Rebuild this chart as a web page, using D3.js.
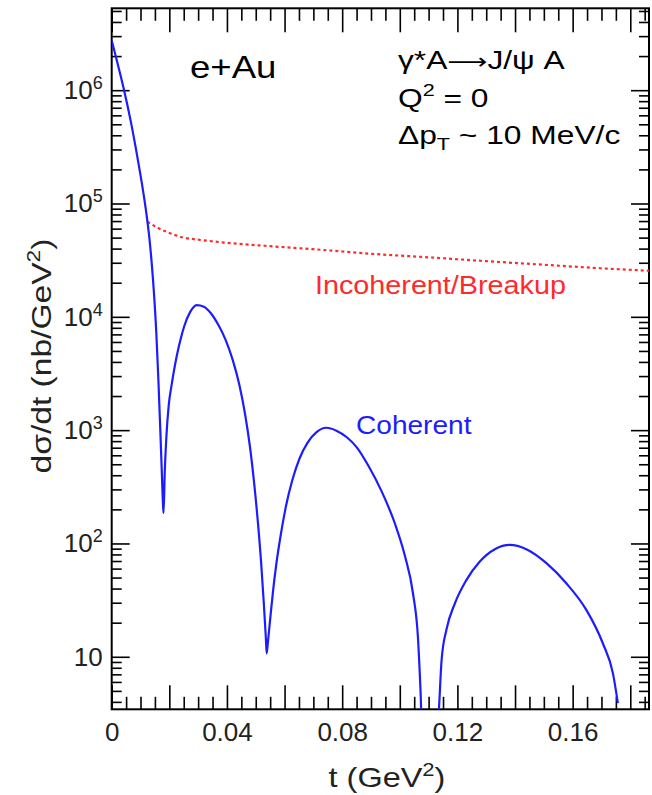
<!DOCTYPE html>
<html><head><meta charset="utf-8">
<script src="https://cdn.jsdelivr.net/npm/d3@7"></script>
<style>
body{margin:0;background:#fff}
text{font-family:"Liberation Sans",Arial,Helvetica,sans-serif}
</style>
</head><body>
<svg id="chart" width="652" height="795"></svg>
<script>
// ---- data (t in GeV^2, dσ/dt in nb/GeV^2) ----
const coherentT = [0, 0.0020, 0.0043, 0.0065, 0.0085, 0.0100, 0.0112, 0.0122, 0.0131, 0.0139, 0.0147, 0.0155, 0.0162, 0.0168, 0.0173, 0.0178, 0.0180,
  0.0184, 0.0190, 0.0198, 0.0208, 0.0220, 0.0235, 0.0252, 0.0272, 0.0295, 0.0320, 0.0345, 0.0370, 0.0395, 0.0420, 0.0443, 0.0463, 0.0480, 0.0495, 0.0508, 0.0519, 0.0528, 0.0535, 0.0538,
  0.0543, 0.0550, 0.0560, 0.0572, 0.0587, 0.0605, 0.0627, 0.0652, 0.0680, 0.0710, 0.0745, 0.0780, 0.0815, 0.0850, 0.0890, 0.0937, 0.0983, 0.1017, 0.1046, 0.1063, 0.1072, 0.1078,
  0.1130, 0.1136, 0.1145, 0.1162, 0.1191, 0.1231, 0.1277, 0.1330, 0.1382, 0.1439, 0.1509, 0.1578, 0.1648, 0.1705, 0.1740, 0.1757];
const coherentV = [2.75e6, 1.74e6, 1.0e6, 5.5e5, 2.95e5, 1.78e5, 1.15e5, 7.6e4, 4.9e4, 2.95e4, 1.58e4, 7.1e3, 2.8e3, 1.12e3, 500, 224, 186,
  417, 890, 1660, 2510, 3800, 5750, 8300, 1.1e4, 1.27e4, 1.23e4, 1.07e4, 8500, 6300, 4170, 2510, 1380, 710, 330, 148, 66, 29.5, 14.8, 10.7,
  14.1, 21.4, 38, 67.6, 120, 214, 363, 562, 776, 955, 1050, 990, 870, 708, 490, 288, 150, 79, 36, 14.8, 5, 2,
  2, 3.5, 9.3, 17.4, 29.5, 47.5, 69, 89, 97, 89, 67, 44.5, 25.8, 13.1, 7.1, 3.9];
const incoherentT = [0.0124, 0.0160, 0.0200, 0.0250, 0.0300, 0.0400, 0.0550, 0.0700, 0.0900, 0.1100, 0.1300, 0.1500, 0.1700, 0.1865];
const incoherentV = [6.9e4, 6.1e4, 5.5e4, 5.0e4, 4.8e4, 4.5e4, 4.2e4, 3.95e4, 3.6e4, 3.35e4, 3.1e4, 2.88e4, 2.68e4, 2.55e4];

const xLongTicks = [0, 0.02, 0.04, 0.06, 0.08, 0.10, 0.12, 0.14, 0.16, 0.18];
const xLabelTicks = [0, 0.04, 0.08, 0.12, 0.16];
const xLabels = ["0", "0.04", "0.08", "0.12", "0.16"];
const yMajorTicks = [10, 100, 1000, 1e4, 1e5, 1e6];
const yLabelExp = ["", "2", "3", "4", "5", "6"];

// ---- layout ----
const L = 111.7, R = 649, T = 8.3, B = 709.3;
const x = d3.scaleLinear().domain([0, 0.1865]).range([L, R]);
const y = d3.scaleLog().domain([3.44, 5.28e6]).range([B, T]);

const svg = d3.select("#chart");
svg.append("defs").append("clipPath").attr("id", "clip")
  .append("rect").attr("x", L).attr("y", T).attr("width", R - L).attr("height", B - T);

const xMinor = d3.range(0, 0.1866, 0.005).filter(v => !xLongTicks.some(t => Math.abs(t - v) < 1e-6));
const yMinor = [];
for (let e = 0; e <= 6; e++) for (let k = 2; k <= 9; k++) {
  const v = k * Math.pow(10, e);
  if (v >= 3.44 && v <= 5.28e6) yMinor.push(v);
}

function styleAxis(g) {
  g.select(".domain").remove();
  g.selectAll(".tick line").attr("stroke", "#000").attr("stroke-width", 1.6);
  g.selectAll("text").attr("fill", "#222").attr("font-size", 26);
}

// bottom / top axes
svg.append("g").attr("transform", `translate(0,${B})`)
  .call(d3.axisBottom(x).tickValues(xLongTicks).tickSize(-24).tickPadding(13)
    .tickFormat(d => { const i = xLabelTicks.findIndex(t => Math.abs(t - d) < 1e-9); return i >= 0 ? xLabels[i] : ""; }))
  .call(styleAxis);
svg.append("g").attr("transform", `translate(0,${B})`)
  .call(d3.axisBottom(x).tickValues(xMinor).tickSize(-12.5).tickFormat(""))
  .call(styleAxis);
svg.append("g").attr("transform", `translate(0,${T})`)
  .call(d3.axisTop(x).tickValues(xLongTicks).tickSize(-24).tickFormat(""))
  .call(styleAxis);
svg.append("g").attr("transform", `translate(0,${T})`)
  .call(d3.axisTop(x).tickValues(xMinor).tickSize(-12.5).tickFormat(""))
  .call(styleAxis);

// left / right axes
const leftAxis = svg.append("g").attr("transform", `translate(${L},0)`)
  .call(d3.axisLeft(y).tickValues(yMajorTicks).tickSize(-18).tickPadding(9).tickFormat(() => ""))
  .call(styleAxis);
leftAxis.selectAll(".tick text").each(function(d, i) {
  const t = d3.select(this);
  t.text(null);
  t.append("tspan").text("10");
  if (yLabelExp[i]) t.append("tspan").attr("font-size", 18).attr("dy", -10).text(yLabelExp[i]);
});
svg.append("g").attr("transform", `translate(${L},0)`)
  .call(d3.axisLeft(y).tickValues(yMinor).tickSize(-10).tickFormat(""))
  .call(styleAxis);
svg.append("g").attr("transform", `translate(${R},0)`)
  .call(d3.axisRight(y).tickValues(yMajorTicks).tickSize(-18).tickFormat(""))
  .call(styleAxis);
svg.append("g").attr("transform", `translate(${R},0)`)
  .call(d3.axisRight(y).tickValues(yMinor).tickSize(-10).tickFormat(""))
  .call(styleAxis);

svg.append("rect").attr("x", L).attr("y", T).attr("width", R - L).attr("height", B - T)
  .attr("fill", "none").attr("stroke", "#000").attr("stroke-width", 2);

// curves
const line = d3.line().x(d => x(d[0])).y(d => y(d[1])).curve(d3.curveMonotoneX);
const plot = svg.append("g").attr("clip-path", "url(#clip)");
plot.append("path").datum(incoherentT.map((t, i) => [t, incoherentV[i]]))
  .attr("d", line).attr("fill", "none").attr("stroke", "#ff2a2a").attr("stroke-width", 2.2)
  .attr("stroke-dasharray", "3,3");
plot.append("path").datum(coherentT.map((t, i) => [t, coherentV[i]]))
  .attr("d", line).attr("fill", "none").attr("stroke", "#1c1cff").attr("stroke-width", 2.2);

// texts (reference lettering is wider than Liberation Sans, so stretch horizontally)
svg.append("text").attr("transform", "translate(190,78) scale(1.18,1)")
  .attr("font-size", 31).attr("fill", "#000").text("e+Au");

const ann = svg.append("g").attr("fill", "#000").attr("font-size", 25);
const l1 = ann.append("text").attr("transform", "translate(398,69) scale(1.27,1)");
l1.append("tspan").text("γ*A");
l1.append("tspan").attr("font-family", "DejaVu Sans").attr("font-size", 22).text("⟶");
l1.append("tspan").text("J/ψ A");
const q = ann.append("text").attr("transform", "translate(398,107) scale(1.27,1)");
q.append("tspan").text("Q");
q.append("tspan").attr("font-size", 17).attr("dy", -11).text("2");
q.append("tspan").attr("dy", 11).text(" = 0");
const p = ann.append("text").attr("transform", "translate(398,144) scale(1.27,1)");
p.append("tspan").text("Δp");
p.append("tspan").attr("font-size", 17).attr("dy", 6).text("T");
p.append("tspan").attr("dy", -6).text(" ~ 10 MeV/c");

svg.append("text").attr("transform", "translate(315,294) scale(1.15,1)")
  .attr("font-size", 25).attr("fill", "#ff2a2a").text("Incoherent/Breakup");
svg.append("text").attr("transform", "translate(356,434) scale(1.08,1)")
  .attr("font-size", 26).attr("fill", "#1c1cff").text("Coherent");

// axis titles
const xt = svg.append("text").attr("transform", "translate(387,787) scale(1.16,1)").attr("text-anchor", "middle")
  .attr("font-size", 28).attr("fill", "#222");
xt.append("tspan").text("t (GeV");
xt.append("tspan").attr("font-size", 19).attr("dy", -11).text("2");
xt.append("tspan").attr("dy", 11).text(")");

const yt = svg.append("text").attr("transform", "translate(51,356) rotate(-90) scale(1.2,1)").attr("text-anchor", "middle")
  .attr("font-size", 28).attr("fill", "#222");
yt.append("tspan").text("dσ/dt  (nb/GeV");
yt.append("tspan").attr("font-size", 19).attr("dy", -11).text("2");
yt.append("tspan").attr("dy", 11).text(")");
</script>
</body></html>
